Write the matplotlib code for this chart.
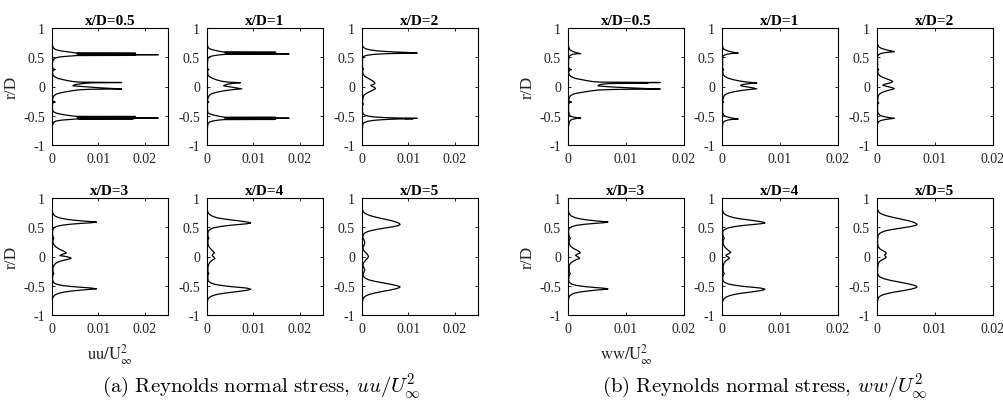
import numpy as np
import matplotlib
matplotlib.use("Agg")
import matplotlib.pyplot as plt

plt.rcParams["font.family"] = ["Liberation Serif", "DejaVu Serif"]
plt.rcParams["axes.unicode_minus"] = False

stations = ["0.5", "1", "2", "3", "4", "5"]
r_ticks = [-1, -0.5, 0, 0.5, 1]
r_tick_labels = ["-1", "-0.5", "0", "0.5", "1"]
stress_ticks = [0, 0.01, 0.02]
stress_tick_labels = ["0", "0.01", "0.02"]

# (r/D, uu/U^2) profiles
uu_05 = [(1.00, 0), (0.80, 0), (0.70, 0.0001), (0.66, 0.0003), (0.63, 0.0008), (0.61, 0.0018),
         (0.595, 0.0032), (0.58, 0.0046), (0.570, 0.0053), (0.568, 0.0180), (0.565, 0.0053),
         (0.562, 0.0180), (0.559, 0.0055), (0.556, 0.0180), (0.553, 0.0056), (0.550, 0.0180),
         (0.547, 0.0058), (0.544, 0.0229), (0.541, 0.0058), (0.538, 0.0180), (0.535, 0.0056),
         (0.532, 0.0175), (0.529, 0.0053), (0.52, 0.0038), (0.51, 0.0022), (0.495, 0.0010),
         (0.47, 0.0004), (0.42, 0.0001), (0.33, 0.0001), (0.30, 0.0003), (0.29, 0.0007),
         (0.28, 0.0003), (0.25, 0.0001), (0.20, 0.0002), (0.17, 0.0005), (0.14, 0.0012),
         (0.12, 0.0022), (0.10, 0.0034), (0.085, 0.0045), (0.075, 0.0060), (0.068, 0.0150),
         (0.062, 0.0085), (0.050, 0.0065), (0.035, 0.0052), (0.020, 0.0046), (0.012, 0.0045),
         (0.000, 0.0065), (-0.015, 0.0090), (-0.030, 0.0120), (-0.042, 0.0150), (-0.048, 0.0080),
         (-0.058, 0.0056), (-0.075, 0.0042), (-0.09, 0.0030), (-0.11, 0.0018), (-0.13, 0.0009),
         (-0.16, 0.0004), (-0.20, 0.0002), (-0.24, 0.0001), (-0.255, 0.0003), (-0.265, 0.0007),
         (-0.275, 0.0003), (-0.30, 0.0001), (-0.40, 0.0001), (-0.43, 0.0003), (-0.455, 0.0009),
         (-0.475, 0.0020), (-0.495, 0.0036), (-0.510, 0.0052), (-0.513, 0.0180), (-0.516, 0.0053),
         (-0.520, 0.0180), (-0.523, 0.0055), (-0.527, 0.0180), (-0.530, 0.0056), (-0.534, 0.0180),
         (-0.537, 0.0058), (-0.540, 0.0229), (-0.543, 0.0058), (-0.546, 0.0180), (-0.549, 0.0056),
         (-0.552, 0.0175), (-0.555, 0.0053), (-0.565, 0.0036), (-0.575, 0.0020), (-0.59, 0.0009),
         (-0.61, 0.0004), (-0.66, 0.0001), (-0.80, 0), (-1.00, 0)]

uu_1 = [(1.00, 0), (0.80, 0), (0.70, 0.0001), (0.66, 0.0003), (0.64, 0.0007), (0.62, 0.0016),
        (0.60, 0.0028), (0.588, 0.0037), (0.585, 0.0148), (0.582, 0.0038), (0.578, 0.0148),
        (0.575, 0.0039), (0.571, 0.0148), (0.568, 0.0040), (0.564, 0.0148), (0.561, 0.0040),
        (0.558, 0.0177), (0.555, 0.0040), (0.552, 0.0145), (0.549, 0.0038), (0.54, 0.0026),
        (0.525, 0.0013), (0.51, 0.0006), (0.48, 0.0002), (0.40, 0.0001), (0.31, 0.0001),
        (0.29, 0.0004), (0.27, 0.0001), (0.20, 0.0002), (0.17, 0.0005), (0.14, 0.0012),
        (0.11, 0.0022), (0.09, 0.0032), (0.075, 0.0045), (0.065, 0.0072), (0.055, 0.0058),
        (0.04, 0.0045), (0.02, 0.0037), (0.01, 0.0036), (0.00, 0.0045), (-0.02, 0.0060),
        (-0.04, 0.0075), (-0.05, 0.0060), (-0.065, 0.0044), (-0.08, 0.0032), (-0.10, 0.0020),
        (-0.12, 0.0011), (-0.15, 0.0005), (-0.20, 0.0002), (-0.25, 0.0001), (-0.265, 0.0004),
        (-0.28, 0.0001), (-0.40, 0.0001), (-0.45, 0.0002), (-0.47, 0.0006), (-0.49, 0.0015),
        (-0.51, 0.0027), (-0.525, 0.0037), (-0.528, 0.0148), (-0.532, 0.0038), (-0.535, 0.0148),
        (-0.538, 0.0039), (-0.542, 0.0177), (-0.545, 0.0040), (-0.549, 0.0148), (-0.552, 0.0040),
        (-0.556, 0.0148), (-0.559, 0.0039), (-0.563, 0.0145), (-0.566, 0.0037), (-0.575, 0.0024),
        (-0.59, 0.0012), (-0.61, 0.0005), (-0.64, 0.0002), (-0.70, 0.0001), (-0.80, 0), (-1.00, 0)]

uu_2 = [(1.00, 0), (0.80, 0), (0.70, 0.0001), (0.67, 0.0003), (0.645, 0.0008), (0.625, 0.0018),
        (0.61, 0.0032), (0.598, 0.0052), (0.588, 0.0078), (0.580, 0.0102), (0.575, 0.0119),
        (0.572, 0.0092), (0.569, 0.0110), (0.565, 0.0072), (0.558, 0.0045), (0.548, 0.0025),
        (0.535, 0.0012), (0.52, 0.0005), (0.50, 0.0002), (0.45, 0.0001), (0.33, 0.0001),
        (0.30, 0.0003), (0.27, 0.0001), (0.22, 0.0002), (0.18, 0.0005), (0.15, 0.0011),
        (0.12, 0.0018), (0.09, 0.0024), (0.06, 0.0028), (0.04, 0.0026), (0.02, 0.0019),
        (0.005, 0.0021), (-0.015, 0.0027), (-0.035, 0.0029), (-0.06, 0.0024), (-0.09, 0.0016),
        (-0.12, 0.0009), (-0.15, 0.0004), (-0.20, 0.0002), (-0.27, 0.0001), (-0.30, 0.0003),
        (-0.33, 0.0001), (-0.42, 0.0001), (-0.46, 0.0002), (-0.485, 0.0005), (-0.505, 0.0012),
        (-0.52, 0.0025), (-0.53, 0.0045), (-0.537, 0.0070), (-0.541, 0.0095), (-0.545, 0.0119),
        (-0.548, 0.0092), (-0.551, 0.0110), (-0.556, 0.0075), (-0.565, 0.0048), (-0.578, 0.0026),
        (-0.595, 0.0012), (-0.615, 0.0005), (-0.64, 0.0002), (-0.70, 0.0001), (-0.80, 0), (-1.00, 0)]

uu_3 = [(1.00, 0), (0.82, 0), (0.76, 0.0001), (0.72, 0.0003), (0.69, 0.0007), (0.665, 0.0014),
        (0.645, 0.0025), (0.625, 0.0042), (0.61, 0.0062), (0.598, 0.0082), (0.588, 0.0096),
        (0.578, 0.0086), (0.566, 0.0063), (0.552, 0.0040), (0.535, 0.0022), (0.515, 0.0010),
        (0.49, 0.0004), (0.46, 0.0002), (0.40, 0.0001), (0.34, 0.0002), (0.31, 0.0004),
        (0.28, 0.0002), (0.24, 0.0002), (0.20, 0.0004), (0.16, 0.0009), (0.12, 0.0017),
        (0.09, 0.0026), (0.06, 0.0031), (0.035, 0.0022), (0.015, 0.0017), (0.00, 0.0030),
        (-0.02, 0.0040), (-0.035, 0.0041), (-0.055, 0.0030), (-0.08, 0.0018), (-0.11, 0.0009),
        (-0.15, 0.0004), (-0.20, 0.0002), (-0.26, 0.0002), (-0.29, 0.0004), (-0.32, 0.0002),
        (-0.38, 0.0001), (-0.42, 0.0002), (-0.45, 0.0004), (-0.475, 0.0010), (-0.495, 0.0022),
        (-0.512, 0.0040), (-0.526, 0.0063), (-0.540, 0.0086), (-0.553, 0.0096), (-0.562, 0.0082),
        (-0.575, 0.0062), (-0.59, 0.0042), (-0.61, 0.0025), (-0.63, 0.0014), (-0.655, 0.0007),
        (-0.685, 0.0003), (-0.72, 0.0001), (-0.80, 0), (-1.00, 0)]

uu_4 = [(1.00, 0), (0.84, 0), (0.78, 0.0001), (0.74, 0.0003), (0.71, 0.0007), (0.685, 0.0013),
        (0.66, 0.0022), (0.64, 0.0038), (0.62, 0.0058), (0.60, 0.0078), (0.585, 0.0090),
        (0.572, 0.0094), (0.56, 0.0086), (0.545, 0.0066), (0.53, 0.0046), (0.51, 0.0027),
        (0.49, 0.0014), (0.465, 0.0007), (0.44, 0.0003), (0.40, 0.0002), (0.35, 0.0002),
        (0.31, 0.0004), (0.28, 0.0002), (0.22, 0.0002), (0.17, 0.0004), (0.13, 0.0008),
        (0.09, 0.0013), (0.06, 0.0016), (0.035, 0.0012), (0.015, 0.0011), (-0.01, 0.0015),
        (-0.035, 0.0017), (-0.06, 0.0012), (-0.09, 0.0007), (-0.13, 0.0004), (-0.18, 0.0002),
        (-0.26, 0.0002), (-0.29, 0.0004), (-0.32, 0.0002), (-0.38, 0.0002), (-0.42, 0.0003),
        (-0.445, 0.0007), (-0.47, 0.0014), (-0.49, 0.0027), (-0.51, 0.0046), (-0.525, 0.0066),
        (-0.54, 0.0086), (-0.558, 0.0094), (-0.572, 0.0090), (-0.587, 0.0078), (-0.607, 0.0058),
        (-0.627, 0.0038), (-0.647, 0.0022), (-0.67, 0.0012), (-0.695, 0.0006), (-0.725, 0.0002),
        (-0.77, 0.0001), (-0.85, 0), (-1.00, 0)]

uu_5 = [(1.00, 0), (0.86, 0), (0.80, 0.0001), (0.76, 0.0003), (0.73, 0.0008), (0.70, 0.0017),
        (0.67, 0.0031), (0.64, 0.0048), (0.61, 0.0065), (0.58, 0.0077), (0.56, 0.0081),
        (0.545, 0.0082), (0.53, 0.0079), (0.51, 0.0068), (0.49, 0.0052), (0.465, 0.0033),
        (0.44, 0.0018), (0.415, 0.0009), (0.39, 0.0004), (0.36, 0.0002), (0.32, 0.0002),
        (0.27, 0.0005), (0.23, 0.0006), (0.19, 0.0004), (0.15, 0.0002), (0.10, 0.0004),
        (0.06, 0.0009), (0.02, 0.0013), (0.00, 0.0014), (-0.03, 0.0012), (-0.07, 0.0007),
        (-0.11, 0.0003), (-0.15, 0.0002), (-0.19, 0.0004), (-0.23, 0.0006), (-0.27, 0.0004),
        (-0.31, 0.0002), (-0.34, 0.0003), (-0.37, 0.0007), (-0.40, 0.0015), (-0.425, 0.0028),
        (-0.45, 0.0045), (-0.475, 0.0062), (-0.50, 0.0076), (-0.515, 0.0082), (-0.53, 0.0081),
        (-0.55, 0.0074), (-0.575, 0.0060), (-0.60, 0.0042), (-0.625, 0.0027), (-0.65, 0.0015),
        (-0.675, 0.0008), (-0.70, 0.0004), (-0.73, 0.0002), (-0.78, 0.0001), (-0.86, 0), (-1.00, 0)]

# (r/D, ww/U^2) profiles
ww_05 = [(1.00, 0), (0.80, 0), (0.68, 0.0001), (0.63, 0.0003), (0.60, 0.0008), (0.58, 0.0014),
         (0.568, 0.0019), (0.562, 0.0022), (0.558, 0.0014), (0.55, 0.0008), (0.535, 0.0004),
         (0.51, 0.0002), (0.45, 0.0001), (0.33, 0.0001), (0.30, 0.0003), (0.29, 0.0006),
         (0.28, 0.0003), (0.25, 0.0001), (0.20, 0.0002), (0.17, 0.0005), (0.14, 0.0012),
         (0.12, 0.0022), (0.10, 0.0033), (0.085, 0.0042), (0.075, 0.0055), (0.068, 0.0159),
         (0.064, 0.0085), (0.058, 0.0138), (0.05, 0.0070), (0.035, 0.0056), (0.02, 0.0052),
         (0.01, 0.0052), (-0.005, 0.0070), (-0.02, 0.0100), (-0.035, 0.0135), (-0.043, 0.0159),
         (-0.05, 0.0080), (-0.06, 0.0052), (-0.075, 0.0040), (-0.09, 0.0030), (-0.11, 0.0018),
         (-0.13, 0.0009), (-0.16, 0.0004), (-0.20, 0.0002), (-0.24, 0.0001), (-0.255, 0.0003),
         (-0.265, 0.0006), (-0.275, 0.0003), (-0.30, 0.0001), (-0.42, 0.0001), (-0.48, 0.0002),
         (-0.505, 0.0004), (-0.52, 0.0008), (-0.53, 0.0014), (-0.537, 0.0022), (-0.542, 0.0018),
         (-0.55, 0.0013), (-0.56, 0.0008), (-0.58, 0.0004), (-0.62, 0.0002), (-0.68, 0.0001),
         (-0.80, 0), (-1.00, 0)]

ww_1 = [(1.00, 0), (0.80, 0), (0.68, 0.0001), (0.64, 0.0003), (0.615, 0.0008), (0.595, 0.0015),
        (0.58, 0.0022), (0.57, 0.0028), (0.565, 0.0018), (0.555, 0.0010), (0.54, 0.0005),
        (0.52, 0.0002), (0.48, 0.0001), (0.31, 0.0001), (0.29, 0.0003), (0.27, 0.0001),
        (0.20, 0.0002), (0.17, 0.0005), (0.14, 0.0011), (0.115, 0.0020), (0.095, 0.0030),
        (0.08, 0.0040), (0.07, 0.0050), (0.06, 0.0060), (0.05, 0.0048), (0.035, 0.0036),
        (0.02, 0.0032), (0.01, 0.0033), (-0.005, 0.0042), (-0.02, 0.0052), (-0.04, 0.0060),
        (-0.05, 0.0048), (-0.065, 0.0036), (-0.08, 0.0026), (-0.10, 0.0016), (-0.12, 0.0009),
        (-0.15, 0.0004), (-0.20, 0.0002), (-0.25, 0.0001), (-0.265, 0.0003), (-0.28, 0.0001),
        (-0.45, 0.0001), (-0.49, 0.0003), (-0.515, 0.0007), (-0.535, 0.0015), (-0.548, 0.0022),
        (-0.555, 0.0028), (-0.56, 0.0020), (-0.57, 0.0012), (-0.585, 0.0006), (-0.61, 0.0002),
        (-0.66, 0.0001), (-0.80, 0), (-1.00, 0)]

ww_2 = [(1.00, 0), (0.80, 0), (0.72, 0.0001), (0.68, 0.0003), (0.655, 0.0007), (0.635, 0.0013),
        (0.615, 0.0021), (0.60, 0.0028), (0.595, 0.0030), (0.588, 0.0022), (0.578, 0.0013),
        (0.565, 0.0007), (0.545, 0.0003), (0.52, 0.0001), (0.40, 0.0001), (0.31, 0.0001),
        (0.29, 0.0003), (0.27, 0.0001), (0.22, 0.0002), (0.19, 0.0004), (0.16, 0.0009),
        (0.13, 0.0017), (0.10, 0.0025), (0.08, 0.0027), (0.06, 0.0022), (0.035, 0.0012),
        (0.02, 0.0010), (0.00, 0.0018), (-0.02, 0.0026), (-0.035, 0.0030), (-0.05, 0.0026),
        (-0.07, 0.0018), (-0.10, 0.0009), (-0.13, 0.0004), (-0.17, 0.0002), (-0.26, 0.0001),
        (-0.28, 0.0003), (-0.30, 0.0001), (-0.42, 0.0001), (-0.46, 0.0002), (-0.49, 0.0005),
        (-0.515, 0.0012), (-0.53, 0.0020), (-0.54, 0.0027), (-0.545, 0.0030), (-0.552, 0.0023),
        (-0.565, 0.0014), (-0.58, 0.0007), (-0.60, 0.0003), (-0.63, 0.0001), (-0.75, 0), (-1.00, 0)]

ww_3 = [(1.00, 0), (0.82, 0), (0.76, 0.0001), (0.72, 0.0003), (0.69, 0.0006), (0.665, 0.0012),
        (0.645, 0.0020), (0.625, 0.0033), (0.61, 0.0047), (0.598, 0.0060), (0.588, 0.0069),
        (0.578, 0.0062), (0.566, 0.0046), (0.552, 0.0030), (0.535, 0.0016), (0.515, 0.0008),
        (0.49, 0.0003), (0.46, 0.0001), (0.40, 0.0001), (0.34, 0.0002), (0.31, 0.0004),
        (0.28, 0.0002), (0.22, 0.0002), (0.18, 0.0004), (0.14, 0.0009), (0.11, 0.0015),
        (0.08, 0.0020), (0.06, 0.0021), (0.04, 0.0016), (0.02, 0.0013), (0.00, 0.0016),
        (-0.02, 0.0019), (-0.035, 0.0020), (-0.05, 0.0015), (-0.08, 0.0009), (-0.11, 0.0005),
        (-0.15, 0.0002), (-0.26, 0.0002), (-0.29, 0.0004), (-0.32, 0.0002), (-0.40, 0.0001),
        (-0.44, 0.0002), (-0.47, 0.0006), (-0.495, 0.0015), (-0.515, 0.0030), (-0.53, 0.0046),
        (-0.542, 0.0062), (-0.555, 0.0069), (-0.565, 0.0060), (-0.577, 0.0046), (-0.592, 0.0032),
        (-0.61, 0.0019), (-0.63, 0.0010), (-0.655, 0.0005), (-0.685, 0.0002), (-0.72, 0.0001),
        (-0.80, 0), (-1.00, 0)]

ww_4 = [(1.00, 0), (0.84, 0), (0.78, 0.0001), (0.74, 0.0003), (0.71, 0.0007), (0.685, 0.0013),
        (0.66, 0.0022), (0.64, 0.0034), (0.62, 0.0050), (0.60, 0.0064), (0.585, 0.0072),
        (0.572, 0.0074), (0.56, 0.0067), (0.545, 0.0052), (0.53, 0.0036), (0.51, 0.0021),
        (0.49, 0.0011), (0.465, 0.0005), (0.44, 0.0002), (0.40, 0.0001), (0.35, 0.0002),
        (0.31, 0.0004), (0.28, 0.0002), (0.22, 0.0002), (0.17, 0.0004), (0.13, 0.0008),
        (0.09, 0.0013), (0.07, 0.0015), (0.05, 0.0012), (0.025, 0.0007), (0.01, 0.0007),
        (-0.01, 0.0011), (-0.03, 0.0013), (-0.05, 0.0010), (-0.08, 0.0006), (-0.12, 0.0003),
        (-0.17, 0.0002), (-0.26, 0.0002), (-0.29, 0.0004), (-0.32, 0.0002), (-0.38, 0.0001),
        (-0.42, 0.0002), (-0.445, 0.0005), (-0.47, 0.0011), (-0.49, 0.0021), (-0.51, 0.0036),
        (-0.525, 0.0052), (-0.54, 0.0067), (-0.558, 0.0074), (-0.572, 0.0072), (-0.587, 0.0064),
        (-0.607, 0.0050), (-0.627, 0.0034), (-0.647, 0.0022), (-0.67, 0.0013), (-0.695, 0.0007),
        (-0.725, 0.0003), (-0.77, 0.0001), (-0.85, 0), (-1.00, 0)]

ww_5 = [(1.00, 0), (0.86, 0), (0.80, 0.0001), (0.76, 0.0003), (0.73, 0.0007), (0.70, 0.0015),
        (0.67, 0.0027), (0.64, 0.0041), (0.61, 0.0055), (0.58, 0.0065), (0.56, 0.0068),
        (0.545, 0.0069), (0.53, 0.0066), (0.51, 0.0057), (0.49, 0.0044), (0.465, 0.0028),
        (0.44, 0.0015), (0.415, 0.0008), (0.39, 0.0004), (0.36, 0.0002), (0.30, 0.0001),
        (0.22, 0.0001), (0.17, 0.0002), (0.13, 0.0005), (0.10, 0.0010), (0.075, 0.0015),
        (0.05, 0.0016), (0.03, 0.0013), (0.01, 0.0014), (-0.01, 0.0016), (-0.03, 0.0014),
        (-0.06, 0.0008), (-0.09, 0.0004), (-0.13, 0.0002), (-0.20, 0.0001), (-0.28, 0.0001),
        (-0.32, 0.0002), (-0.35, 0.0005), (-0.38, 0.0012), (-0.41, 0.0024), (-0.44, 0.0040),
        (-0.47, 0.0055), (-0.495, 0.0065), (-0.51, 0.0068), (-0.52, 0.0069), (-0.535, 0.0067),
        (-0.555, 0.0060), (-0.58, 0.0047), (-0.605, 0.0032), (-0.63, 0.0019), (-0.655, 0.0010),
        (-0.68, 0.0005), (-0.71, 0.0002), (-0.76, 0.0001), (-0.85, 0), (-1.00, 0)]

uu_profiles = [uu_05, uu_1, uu_2, uu_3, uu_4, uu_5]
ww_profiles = [ww_05, ww_1, ww_2, ww_3, ww_4, ww_5]

W, H = 1004, 406
fig = plt.figure(figsize=(W / 100, H / 100), dpi=100)

col_left = [[52, 207, 362], [568, 722, 877]]
row_top = [29, 199]
ax_w, ax_h = 116, 117


def make_axes(px_left, px_top):
    return fig.add_axes([px_left / W, 1 - (px_top + ax_h) / H, ax_w / W, ax_h / H])


groups = [
    (uu_profiles, 0.025, r"$\mathrm{uu/U}_{\infty}^{2}$",
     r"$\mathrm{(a)\ Reynolds\ normal\ stress,}\,uu/U_\infty^2$", 102),
    (ww_profiles, 0.02, r"$\mathrm{ww/U}_{\infty}^{2}$",
     r"$\mathrm{(b)\ Reynolds\ normal\ stress,}\,ww/U_\infty^2$", 602),
]

for g, (profiles, xmax, xlab, caption, cap_x) in enumerate(groups):
    for k, prof in enumerate(profiles):
        row, col = divmod(k, 3)
        ax = make_axes(col_left[g][col], row_top[row])
        pts = np.array(prof)
        ax.plot(pts[:, 1], pts[:, 0], color="black", lw=0.9)
        ax.set_xlim(0, xmax)
        ax.set_ylim(-1, 1)
        ax.set_xticks(stress_ticks)
        ax.set_xticklabels(stress_tick_labels)
        ax.set_yticks(r_ticks)
        ax.set_yticklabels(r_tick_labels)
        ax.tick_params(direction="in", top=True, right=True, length=2.5, width=0.6,
                       labelsize=10, pad=5, colors="black", labelcolor="#222222")
        for sp in ax.spines.values():
            sp.set_linewidth(0.8)
        ax.set_title(f"x/D={stations[k]}", fontsize=11, fontweight="bold", pad=3)
        if col == 0:
            ax.set_ylabel("r/D", fontsize=12.5, color="#222222")
            ax.yaxis.set_label_coords(-0.276, 0.5)
        if row == 1 and col == 0:
            ax.set_xlabel(xlab, fontsize=12, color="#222222", math_fontfamily="stix")
            ax.xaxis.set_label_coords(0.5, -0.22)
    fig.text(cap_x / W, 1 - 387 / H, caption, fontsize=15, ha="left", va="center",
             math_fontfamily="cm")

fig.savefig("out.png", dpi=100)
